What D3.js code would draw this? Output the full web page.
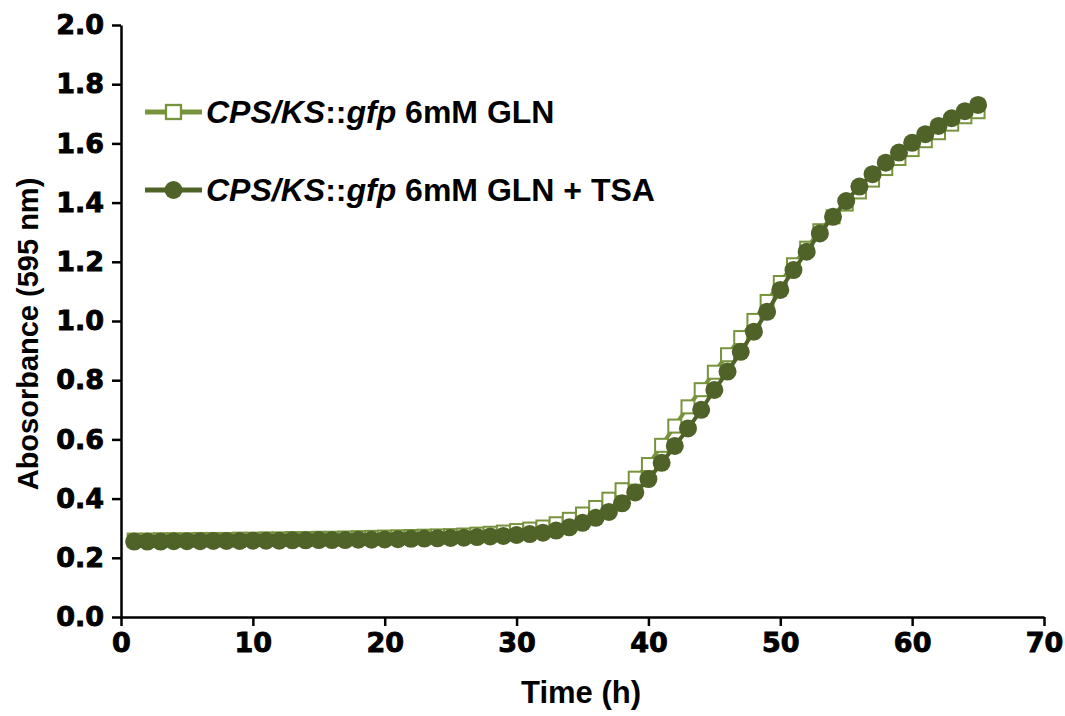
<!DOCTYPE html>
<html>
<head>
<meta charset="utf-8">
<script src="https://cdn.jsdelivr.net/npm/d3@7"></script>
<style>
  body { margin: 0; background: #fff; }
</style>
</head>
<body>
<div class="d3Chart"></div>
<script>
// time points (h)
var hours = d3.range(1, 66);

// CPS/KS::gfp 6mM GLN
var glnValues = [
  0.260, 0.260, 0.261, 0.261, 0.261, 0.262, 0.262, 0.262, 0.263, 0.263,
  0.264, 0.264, 0.265, 0.265, 0.266, 0.266, 0.267, 0.268, 0.269, 0.270,
  0.271, 0.272, 0.273, 0.274, 0.275, 0.277, 0.280, 0.283, 0.287, 0.292,
  0.297, 0.304, 0.315, 0.330, 0.348, 0.370, 0.398, 0.430, 0.469, 0.515,
  0.580, 0.645, 0.710, 0.768, 0.827, 0.886, 0.944, 1.002, 1.066, 1.130,
  1.190, 1.246, 1.305, 1.352, 1.395, 1.436, 1.476, 1.515, 1.549, 1.579,
  1.609, 1.636, 1.665, 1.690, 1.707
];

// CPS/KS::gfp 6mM GLN + TSA
var tsaValues = [
  0.255, 0.255, 0.255, 0.256, 0.256, 0.256, 0.257, 0.257, 0.257, 0.258,
  0.258, 0.258, 0.259, 0.259, 0.260, 0.260, 0.260, 0.261, 0.261, 0.262,
  0.263, 0.264, 0.265, 0.266, 0.267, 0.268, 0.270, 0.272, 0.274, 0.277,
  0.280, 0.285, 0.292, 0.303, 0.318, 0.335, 0.355, 0.384, 0.421, 0.466,
  0.521, 0.578, 0.637, 0.700, 0.767, 0.829, 0.896, 0.964, 1.031, 1.105,
  1.172, 1.234, 1.296, 1.352, 1.405, 1.454, 1.496, 1.535, 1.569, 1.602,
  1.631, 1.659, 1.685, 1.709, 1.730
];

var xTicks = [0, 10, 20, 30, 40, 50, 60, 70];
var yTicks = [0, 0.2, 0.4, 0.6, 0.8, 1.0, 1.2, 1.4, 1.6, 1.8, 2.0];

var lightGreen = "#77933c";
var darkGreen = "#4f6228";

// 畫布
var width = 1065;
var height = 716;

var svg = d3
  .select(".d3Chart")
  .append("svg")
  .attr("width", width)
  .attr("height", height)
  .style("background-color", "#fff");

// 比例尺
var x = d3.scaleLinear().domain([0, 70]).range([121, 1044]);
var y = d3.scaleLinear().domain([0, 2]).range([617, 25]);

// 座標軸
var xAxis = svg
  .append("g")
  .attr("transform", "translate(0," + y(0) + ")")
  .call(
    d3.axisBottom(x)
      .tickValues(xTicks)
      .tickSizeInner(9)
      .tickSizeOuter(0)
      .tickPadding(4)
      .tickFormat(d3.format("d"))
  );

var yAxis = svg
  .append("g")
  .attr("transform", "translate(" + x(0) + ",0)")
  .call(
    d3.axisLeft(y)
      .tickValues(yTicks)
      .tickSizeInner(9)
      .tickSizeOuter(0)
      .tickPadding(8)
      .tickFormat(d3.format(".1f"))
  );

[xAxis, yAxis].forEach(function (g) {
  g.select(".domain").attr("stroke", "#000").attr("stroke-width", 2.5);
  g.selectAll(".tick line").attr("stroke", "#000").attr("stroke-width", 2.5);
  g.selectAll(".tick text")
    .attr("fill", "#000")
    .attr("stroke", "#000")
    .attr("stroke-width", 0.9)
    .style("font-family", "'DejaVu Sans', sans-serif")
    .style("font-weight", "bold")
    .style("font-size", "27px");
});
xAxis.selectAll(".tick text").attr("dy", "0.8em");

// 軸標題
svg
  .append("text")
  .attr("x", 581)
  .attr("y", 703)
  .attr("text-anchor", "middle")
  .style("font-family", "'Liberation Sans', Arial, sans-serif")
  .style("font-weight", "bold")
  .style("font-size", "31px")
  .text("Time (h)");

svg
  .append("text")
  .attr("transform", "translate(38,334) rotate(-90)")
  .attr("text-anchor", "middle")
  .style("font-family", "'Liberation Sans', Arial, sans-serif")
  .style("font-weight", "bold")
  .style("font-size", "29px")
  .text("Abosorbance (595 nm)");

// 折線
var line = d3
  .line()
  .x(function (d) { return x(d[0]); })
  .y(function (d) { return y(d[1]); })
  .curve(d3.curveMonotoneX);

var glnPoints = hours.map(function (h, i) { return [h, glnValues[i]]; });
var tsaPoints = hours.map(function (h, i) { return [h, tsaValues[i]]; });

var sq = 13;

svg
  .append("path")
  .datum(glnPoints)
  .attr("fill", "none")
  .attr("stroke", lightGreen)
  .attr("stroke-width", 4)
  .attr("d", line);

svg
  .append("g")
  .selectAll("rect")
  .data(glnPoints)
  .enter()
  .append("rect")
  .attr("x", function (d) { return x(d[0]) - sq / 2; })
  .attr("y", function (d) { return y(d[1]) - sq / 2; })
  .attr("width", sq)
  .attr("height", sq)
  .attr("fill", "#fff")
  .attr("stroke", lightGreen)
  .attr("stroke-width", 2);

svg
  .append("path")
  .datum(tsaPoints)
  .attr("fill", "none")
  .attr("stroke", darkGreen)
  .attr("stroke-width", 4)
  .attr("d", line);

svg
  .append("g")
  .selectAll("circle")
  .data(tsaPoints)
  .enter()
  .append("circle")
  .attr("cx", function (d) { return x(d[0]); })
  .attr("cy", function (d) { return y(d[1]); })
  .attr("r", 9)
  .attr("fill", darkGreen);

// 圖例
var legend = [
  { y: 112, color: lightGreen, marker: "square", extra: " 6mM GLN" },
  { y: 190, color: darkGreen, marker: "circle", extra: " 6mM GLN + TSA" }
];

var lg = svg
  .selectAll(".legend")
  .data(legend)
  .enter()
  .append("g")
  .attr("class", "legend")
  .attr("transform", function (d) { return "translate(0," + d.y + ")"; });

lg.append("line")
  .attr("x1", 145)
  .attr("x2", 202)
  .attr("stroke", function (d) { return d.color; })
  .attr("stroke-width", 5);

lg.filter(function (d) { return d.marker === "square"; })
  .append("rect")
  .attr("x", 166)
  .attr("y", -7)
  .attr("width", 15)
  .attr("height", 14)
  .attr("fill", "#fff")
  .attr("stroke", lightGreen)
  .attr("stroke-width", 2.3);

lg.filter(function (d) { return d.marker === "circle"; })
  .append("circle")
  .attr("cx", 173.5)
  .attr("r", 9)
  .attr("fill", darkGreen);

var lt = lg
  .append("text")
  .attr("x", 206)
  .attr("y", 11)
  .style("font-family", "'Liberation Sans', Arial, sans-serif")
  .style("font-weight", "bold")
  .style("font-size", "32px")
  .attr("fill", "#000");

lt.append("tspan").style("font-style", "italic").text("CPS/KS");
lt.append("tspan").text("::");
lt.append("tspan").style("font-style", "italic").text("gfp");
lt.append("tspan").text(function (d) { return d.extra; });
</script>
</body>
</html>
